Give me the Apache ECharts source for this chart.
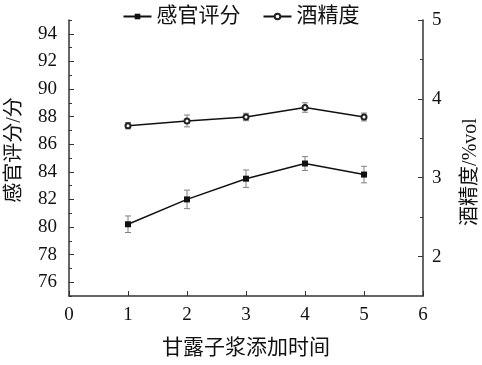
<!DOCTYPE html>
<html><head><meta charset="utf-8">
<script src="https://cdn.jsdelivr.net/npm/echarts@6/dist/echarts.min.js"></script>
<style>html,body{margin:0;padding:0;background:#fff}#c{width:482px;height:365px}</style>
</head><body><div id="c"></div>
<script>
var xValues = [1, 2, 3, 4, 5];
var scoreValues = [80.2, 82.0, 83.5, 84.6, 83.8];
var scoreErr = [0.6, 0.67, 0.63, 0.5, 0.6];
var alcoholValues = [3.66, 3.72, 3.77, 3.89, 3.77];
var alcoholErr = [0.04, 0.075, 0.047, 0.06, 0.05];
var leftLabels = [76, 78, 80, 82, 84, 86, 88, 90, 92, 94];
var leftMinor = [75, 77, 79, 81, 83, 85, 87, 89, 91, 93, 95];
var rightLabels = [2, 3, 4, 5];
var rightMinor = [2.5, 3.5, 4.5];

var FONT = "'Liberation Serif', 'Noto Sans CJK SC', serif";
var AX = '#333';
function pairs(xs, ys) { return xs.map(function (x, i) { return [x, ys[i]]; }); }
function errData(xs, ys, es) { return xs.map(function (x, i) { return [x, ys[i] - es[i], ys[i] + es[i]]; }); }
function errSeries(name, yIdx, data) {
  return {
    type: 'custom', name: name + '_err', yAxisIndex: yIdx, silent: true, z: 1,
    data: data,
    renderItem: function (params, api) {
      var lo = api.coord([api.value(0), api.value(1)]);
      var hi = api.coord([api.value(0), api.value(2)]);
      var w = 3;
      var st = { stroke: '#808080', lineWidth: 1 };
      return { type: 'group', children: [
        { type: 'line', shape: { x1: lo[0], y1: lo[1], x2: hi[0], y2: hi[1] }, style: st },
        { type: 'line', shape: { x1: lo[0] - w, y1: lo[1], x2: lo[0] + w, y2: lo[1] }, style: st },
        { type: 'line', shape: { x1: hi[0] - w, y1: hi[1], x2: hi[0] + w, y2: hi[1] }, style: st }
      ]};
    }
  };
}
var chart = echarts.init(document.getElementById('c'));
chart.setOption({
  animation: false,
  backgroundColor: '#fff',
  textStyle: { fontFamily: FONT },
  legend: {
    top: 1, left: 'center', itemWidth: 28, itemHeight: 7, itemGap: 22,
    textStyle: { fontFamily: FONT, fontSize: 21, color: '#111' },
    data: ['感官评分', '酒精度']
  },
  grid: { left: 69, right: 59, top: 20, bottom: 69, containLabel: false, outerBoundsMode: 'none' },
  xAxis: {
    type: 'value', min: 0, max: 6, interval: 1,
    name: '甘露子浆添加时间', nameLocation: 'middle', nameGap: 42,
    nameTextStyle: { fontFamily: FONT, fontSize: 21, color: '#111' },
    axisLine: { show: true, lineStyle: { color: AX, width: 1.5 } },
    axisTick: { show: true, inside: true, length: 5, lineStyle: { color: AX } },
    axisLabel: { fontFamily: FONT, fontSize: 19, color: '#111', margin: 10 },
    splitLine: { show: false }
  },
  yAxis: [
    {
      type: 'value', position: 'left', min: 75, max: 95,
      name: '感官评分/分', nameLocation: 'middle', nameGap: 44, nameRotate: 90,
      nameTextStyle: { fontFamily: FONT, fontSize: 20, color: '#111', padding: [0, 0, 0, 16] },
      axisLine: { show: true, lineStyle: { color: AX, width: 1.5 } },
      axisTick: { show: true, inside: true, length: 5, customValues: leftLabels, lineStyle: { color: AX } },
      axisLabel: { customValues: leftLabels, fontFamily: FONT, fontSize: 19, color: '#111', margin: 12 },
      splitLine: { show: false }
    },
    {
      type: 'value', position: 'right', min: 1.5, max: 5,
      name: '酒精度/%vol', nameLocation: 'middle', nameGap: 38, nameRotate: 90,
      nameTextStyle: { fontFamily: FONT, fontSize: 20, color: '#111', padding: [0, 28, 0, 0] },
      axisLine: { show: true, lineStyle: { color: AX, width: 1.5 } },
      axisTick: { show: true, inside: true, length: 5, customValues: rightLabels, lineStyle: { color: AX } },
      axisLabel: { customValues: rightLabels, fontFamily: FONT, fontSize: 19, color: '#111', margin: 9 },
      splitLine: { show: false }
    },
    {
      type: 'value', position: 'left', min: 75, max: 95,
      axisLine: { show: false },
      axisTick: { show: true, inside: true, length: 3, customValues: leftMinor, lineStyle: { color: AX } },
      axisLabel: { show: false }, splitLine: { show: false }
    },
    {
      type: 'value', position: 'right', min: 1.5, max: 5,
      axisLine: { show: false },
      axisTick: { show: true, inside: true, length: 3, customValues: rightMinor, lineStyle: { color: AX } },
      axisLabel: { show: false }, splitLine: { show: false }
    }
  ],
  series: [
    errSeries('感官评分', 0, errData(xValues, scoreValues, scoreErr)),
    errSeries('酒精度', 1, errData(xValues, alcoholValues, alcoholErr)),
    {
      name: '感官评分', type: 'line', yAxisIndex: 0, z: 3,
      data: pairs(xValues, scoreValues),
      symbol: 'rect', symbolSize: 6,
      lineStyle: { color: '#111', width: 1.5 },
      itemStyle: { color: '#111' }
    },
    {
      name: '酒精度', type: 'line', yAxisIndex: 1, z: 3,
      data: pairs(xValues, alcoholValues),
      symbol: 'emptyCircle', symbolSize: 5,
      lineStyle: { color: '#111', width: 1.5 },
      itemStyle: { color: '#222', borderColor: '#222', borderWidth: 1 }
    }
  ]
});
</script></body></html>
